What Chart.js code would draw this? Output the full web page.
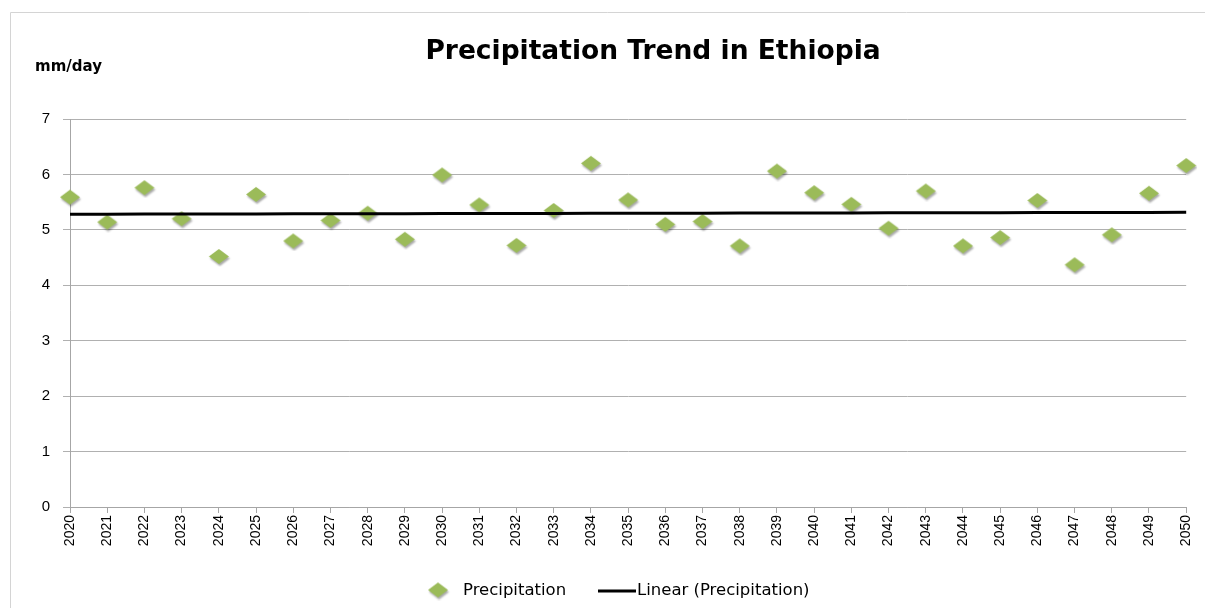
<!DOCTYPE html>
<html>
<head>
<meta charset="utf-8">
<title>Precipitation Trend in Ethiopia</title>
<script src="https://cdn.jsdelivr.net/npm/chart.js@4.4.1/dist/chart.umd.min.js"></script>
<style>
  html, body { margin: 0; padding: 0; background: #ffffff; }
  #wrap { width: 1205px; height: 608px; }
</style>
</head>
<body>
<div id="wrap"><canvas id="chart" width="1205" height="608"></canvas></div>
<script>
// Years on the category axis
const years = ['2020','2021','2022','2023','2024','2025','2026','2027','2028','2029','2030',
               '2031','2032','2033','2034','2035','2036','2037','2038','2039','2040',
               '2041','2042','2043','2044','2045','2046','2047','2048','2049','2050'];

// Annual precipitation, mm/day
const precipitation = [5.59, 5.14, 5.76, 5.20, 4.52, 5.64, 4.80, 5.17, 5.30, 4.83, 5.99,
                       5.45, 4.72, 5.35, 6.20, 5.54, 5.10, 5.15, 4.71, 6.06, 5.67,
                       5.46, 5.03, 5.70, 4.71, 4.86, 5.53, 4.37, 4.91, 5.66, 6.16];

// Value-axis ticks
const yTicks = [0, 1, 2, 3, 4, 5, 6, 7];

const seriesLabel = 'Precipitation';
const trendLabel = 'Linear (Precipitation)';
const chartTitle = 'Precipitation Trend in Ethiopia';
const unitLabel = 'mm/day';

// Least-squares linear trend over the series
function linearTrend(values) {
  const n = values.length;
  let sx = 0, sy = 0, sxx = 0, sxy = 0;
  values.forEach((v, i) => { sx += i; sy += v; sxx += i * i; sxy += i * v; });
  const slope = (n * sxy - sx * sy) / (n * sxx - sx * sx);
  const intercept = (sy - slope * sx) / n;
  return values.map((_, i) => intercept + slope * i);
}
const trend = linearTrend(precipitation);

// Green diamond marker with a soft drop shadow
function makeDiamond() {
  const c = document.createElement('canvas');
  c.width = 26; c.height = 21;
  const g = c.getContext('2d');
  g.shadowColor = 'rgba(0,0,0,0.35)';
  g.shadowBlur = 2;
  g.shadowOffsetX = 1;
  g.shadowOffsetY = 2;
  g.fillStyle = '#9bbb59';
  g.beginPath();
  g.moveTo(13, 3);
  g.lineTo(23, 10.5);
  g.lineTo(13, 18);
  g.lineTo(3, 10.5);
  g.closePath();
  g.fill();
  return c;
}
const diamond = makeDiamond();

const TEXT_FONT = '"DejaVu Sans", Verdana, sans-serif';
const TICK_FONT = '"Liberation Sans", Arial, sans-serif';

// Outer frame, heading, unit label and bottom legend
const decorations = {
  id: 'decorations',
  beforeDraw(chart) {
    const ctx = chart.ctx;
    ctx.save();
    ctx.strokeStyle = '#d4d4d4';
    ctx.lineWidth = 1;
    ctx.beginPath();
    ctx.moveTo(10.5, 608);
    ctx.lineTo(10.5, 12.5);
    ctx.lineTo(1205, 12.5);
    ctx.stroke();
    ctx.restore();
  },
  afterDraw(chart) {
    const ctx = chart.ctx;
    ctx.save();
    ctx.fillStyle = '#000000';
    ctx.textBaseline = 'middle';
    ctx.textAlign = 'center';
    ctx.font = 'bold 26.5px ' + TEXT_FONT;
    ctx.fillText(chartTitle, 653, 52);

    ctx.textAlign = 'left';
    ctx.font = 'bold 15px ' + TEXT_FONT;
    ctx.fillText(unitLabel, 35, 67);

    // legend
    const ds = chart.data.datasets;
    const ly = 591;
    ctx.font = '16.5px ' + TEXT_FONT;
    ctx.drawImage(diamond, 438 - diamond.width / 2, ly - diamond.height / 2 - 1);
    ctx.fillText(ds[0].label, 463, ly);
    ctx.strokeStyle = '#000000';
    ctx.lineWidth = 3;
    ctx.beginPath();
    ctx.moveTo(598, ly);
    ctx.lineTo(636, ly);
    ctx.stroke();
    ctx.fillText(ds[1].label, 637, ly);
    ctx.restore();
  }
};

new Chart(document.getElementById('chart'), {
  type: 'line',
  data: {
    labels: years,
    datasets: [
      {
        label: seriesLabel,
        data: precipitation,
        showLine: false,
        pointStyle: diamond,
        pointRadius: 10,
        pointHoverRadius: 10,
        order: 2
      },
      {
        label: trendLabel,
        data: trend,
        borderColor: '#000000',
        borderWidth: 3,
        pointRadius: 0,
        pointHoverRadius: 0,
        tension: 0,
        order: 1
      }
    ]
  },
  options: {
    responsive: false,
    animation: false,
    layout: { padding: { left: 10, right: 18, top: 119, bottom: 58 } },
    plugins: {
      legend: { display: false },
      title: { display: false },
      tooltip: { enabled: false }
    },
    scales: {
      x: {
        type: 'category',
        offset: false,
        grid: {
          display: true,
          drawOnChartArea: false,
          drawTicks: true,
          tickLength: 6,
          color: '#a6a6a6'
        },
        border: { display: true, color: '#a6a6a6', width: 1 },
        ticks: {
          autoSkip: false,
          minRotation: 90,
          maxRotation: 90,
          padding: 2,
          color: '#000000',
          font: { family: TICK_FONT, size: 14 }
        },
        afterFit(scale) { scale.height = 43; }
      },
      y: {
        min: yTicks[0],
        max: yTicks[yTicks.length - 1],
        afterBuildTicks(scale) { scale.ticks = yTicks.map(v => ({ value: v })); },
        grid: {
          color: '#b0b0b0',
          tickLength: 7,
          drawTicks: true
        },
        border: { display: true, color: '#a6a6a6', width: 1 },
        ticks: {
          padding: 13,
          color: '#000000',
          font: { family: TICK_FONT, size: 15 }
        },
        afterFit(scale) { scale.width = 60; }
      }
    }
  },
  plugins: [decorations]
});
</script>
</body>
</html>
